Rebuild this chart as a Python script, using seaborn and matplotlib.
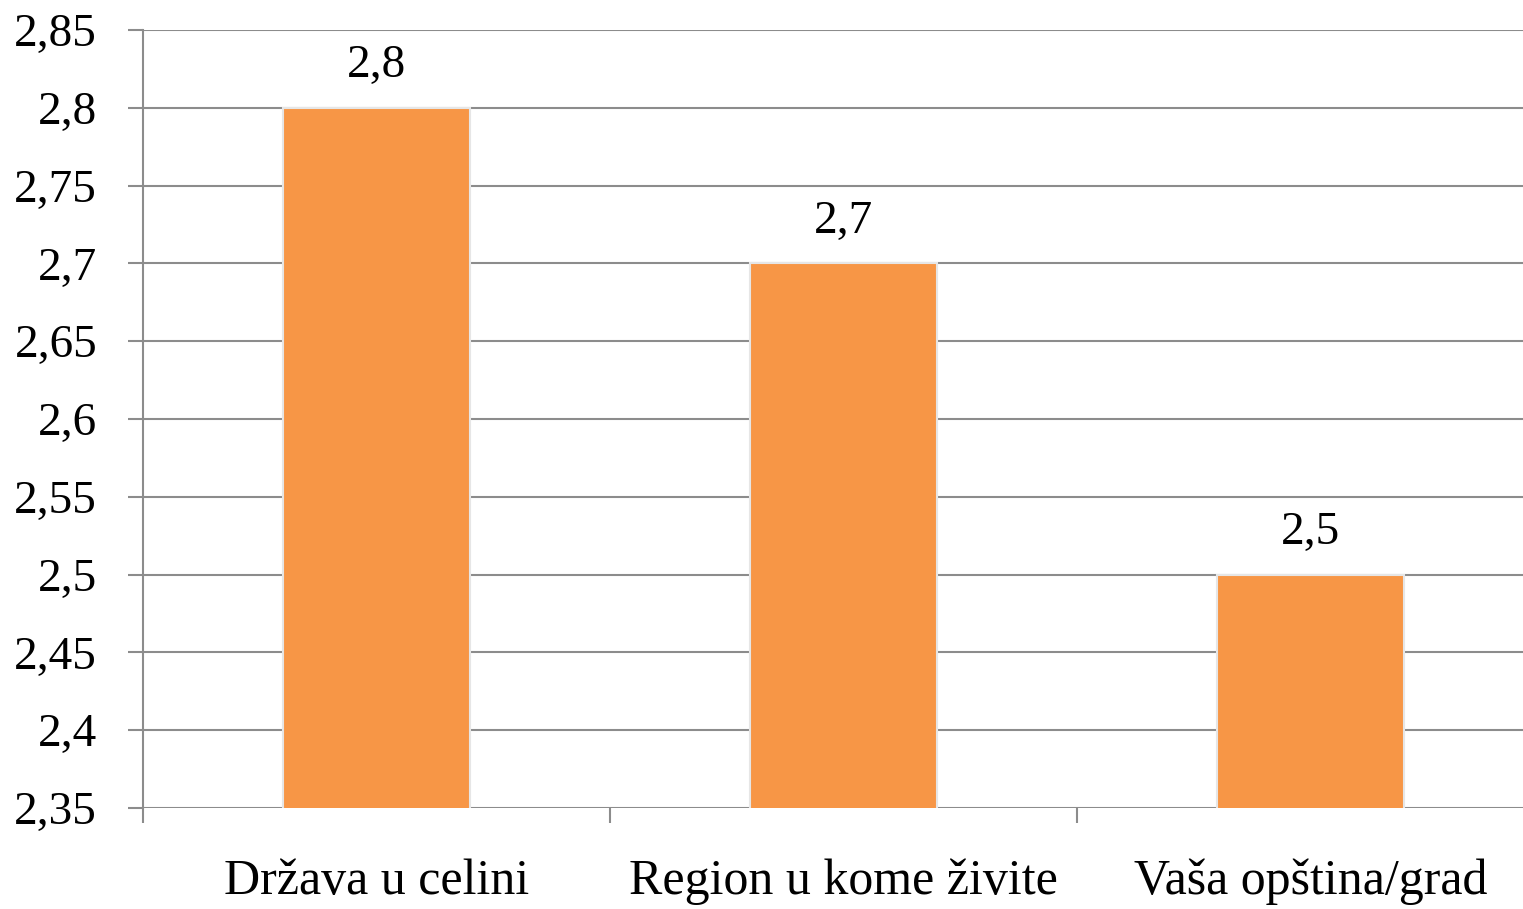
import matplotlib
matplotlib.use("Agg")
import matplotlib.pyplot as plt
import matplotlib.ticker as mticker
import seaborn as sns
import pandas as pd

categories = ["Država u celini", "Region u kome živite", "Vaša opština/grad"]
values = [2.8, 2.7, 2.5]
y_ticks = [2.35, 2.4, 2.45, 2.5, 2.55, 2.6, 2.65, 2.7, 2.75, 2.8, 2.85]

df = pd.DataFrame({"kategorija": categories, "vrednost": values})

sns.set_style("white")
plt.rcParams["font.family"] = ["Liberation Serif", "DejaVu Serif"]
plt.rcParams["text.color"] = "black"
plt.rcParams["xtick.labelcolor"] = "black"
plt.rcParams["ytick.labelcolor"] = "black"

fig = plt.figure(figsize=(15.23, 9.09), dpi=100)
ax = fig.add_axes([0.0939, 0.1111, 0.9199, 0.8559])

sns.barplot(data=df, x="kategorija", y="vrednost", color="#F79646", saturation=1,
            width=0.4, edgecolor="#e6e6e6", linewidth=1.5, ax=ax, zorder=3)

ax.set_ylim(2.35, 2.85)
ax.set_xlim(-0.5, 2.5)
ax.set_yticks(y_ticks)
ax.yaxis.set_major_formatter(mticker.FuncFormatter(lambda v, p: f"{v:g}".replace(".", ",")))
ax.yaxis.grid(True, color="#8c8c8c", linewidth=1.5, zorder=0)
ax.set_axisbelow(True)

ax.set_xticks([0, 1, 2])
ax.set_xticklabels(categories)
ax.set_xticks([-0.5, 0.5, 1.5], minor=True)
ax.tick_params(axis="x", which="major", length=0, labelsize=36, pad=36, labelcolor="black")
ax.tick_params(axis="x", which="minor", length=11, width=1.5, color="#8c8c8c", direction="out", bottom=True)
ax.tick_params(axis="y", length=11, width=1.5, color="#8c8c8c", direction="out", left=True,
               labelsize=34, pad=22, labelcolor="black")

for s in ["top", "right", "bottom"]:
    ax.spines[s].set_visible(False)
ax.spines["left"].set_color("#8c8c8c")
ax.spines["left"].set_linewidth(1.5)
ax.set_xlabel("")
ax.set_ylabel("")

for i, v in enumerate(values):
    ax.annotate(f"{v:g}".replace(".", ","), (i, v), textcoords="offset points",
                xytext=(0, 15), ha="center", va="bottom", fontsize=34, color="black")

fig.savefig("out.png", dpi=100)
